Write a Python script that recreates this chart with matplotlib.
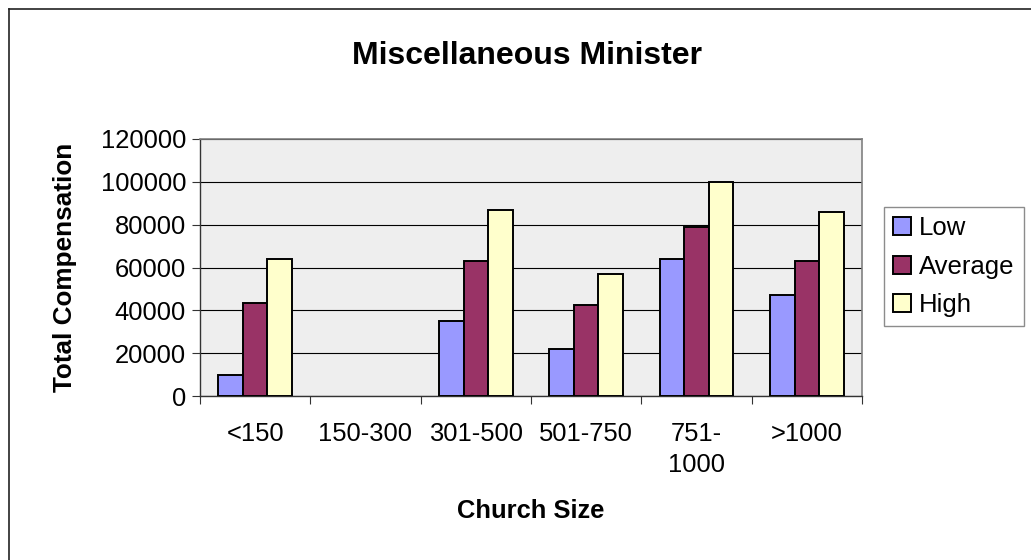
import matplotlib
matplotlib.use("Agg")
import matplotlib.pyplot as plt
from matplotlib.lines import Line2D
import numpy as np

plt.rcParams['font.family'] = ['Liberation Sans', 'DejaVu Sans']

categories = ["<150", "150-300", "301-500", "501-750", "751-\n1000", ">1000"]
series_names = ["Low", "Average", "High"]
low = [10000, 0, 35000, 22000, 64000, 47000]
average = [43500, 0, 63000, 42500, 79000, 63000]
high = [64000, 0, 87000, 57000, 100000, 86000]
colors = ["#9999FF", "#993366", "#FFFFCC"]
yticks = [0, 20000, 40000, 60000, 80000, 100000, 120000]

W, H = 1031, 560
fig = plt.figure(figsize=(W / 100, H / 100), dpi=100)
fig.patch.set_facecolor("white")

ax = fig.add_axes([200 / W, 1 - 396 / H, (862 - 200) / W, (396 - 139) / H])
ax.set_facecolor("#EEEEEE")

x = np.arange(len(categories))
bw = 1 / 4.5
data = [low, average, high]
for i, (vals, c, name) in enumerate(zip(data, colors, series_names)):
    bars = ax.bar(x + (i - 1) * bw, vals, width=bw, color=c, edgecolor="black",
                  linewidth=1.4, label=name, zorder=3)
    for b in bars:
        if b.get_height() == 0:
            b.set_visible(False)

ax.set_xlim(-0.5, len(categories) - 0.5)
ax.set_ylim(0, 120000)
ax.set_yticks(yticks)
ax.set_yticklabels([str(v) for v in yticks], fontsize=18.4)
ax.yaxis.grid(True, color="black", linewidth=0.8, zorder=1)
ax.set_axisbelow(True)

ax.set_xticks(np.arange(-0.5, len(categories), 1.0))
ax.set_xticklabels([])
ax.set_xticks(x, minor=True)
ax.set_xticklabels(categories, minor=True, fontsize=18.4, linespacing=1.35)
ax.tick_params(axis="x", which="minor", length=0, pad=19)
ax.tick_params(axis="x", which="major", length=6, width=0.8, color="#333333")
ax.tick_params(axis="y", length=6, width=0.8, color="#333333", pad=4)

for s in ["top", "right"]:
    ax.spines[s].set_color("#808080")
    ax.spines[s].set_linewidth(1.2)
for s in ["left", "bottom"]:
    ax.spines[s].set_color("#333333")
    ax.spines[s].set_linewidth(1.0)

fig.text(527 / W, 1 - 56 / H, "Miscellaneous Minister", ha="center", va="center",
         fontsize=23, fontweight="bold")
fig.text(531 / W, 1 - 511 / H, "Church Size", ha="center", va="center",
         fontsize=18.4, fontweight="bold")
fig.text(65 / W, 1 - 267 / H, "Total Compensation", ha="center", va="center",
         rotation=90, fontsize=18.8, fontweight="bold")

leg = ax.legend(loc="upper left", bbox_to_anchor=(884 / W, 1 - 207 / H),
                bbox_transform=fig.transFigure, fontsize=18.5, frameon=True,
                fancybox=False, shadow=False, handlelength=0.7, handleheight=0.7,
                handletextpad=0.3, labelspacing=0.56, borderpad=0.36,
                borderaxespad=0, edgecolor="#707070")
leg.get_frame().set_linewidth(1.0)

fig.add_artist(Line2D([8.5 / W, 8.5 / W], [0, 1 - 9 / H], color="#222222",
                      linewidth=1.2, transform=fig.transFigure))
fig.add_artist(Line2D([8.5 / W, 1], [1 - 9 / H, 1 - 9 / H], color="#222222",
                      linewidth=1.2, transform=fig.transFigure))

fig.savefig("out.png", dpi=100)
